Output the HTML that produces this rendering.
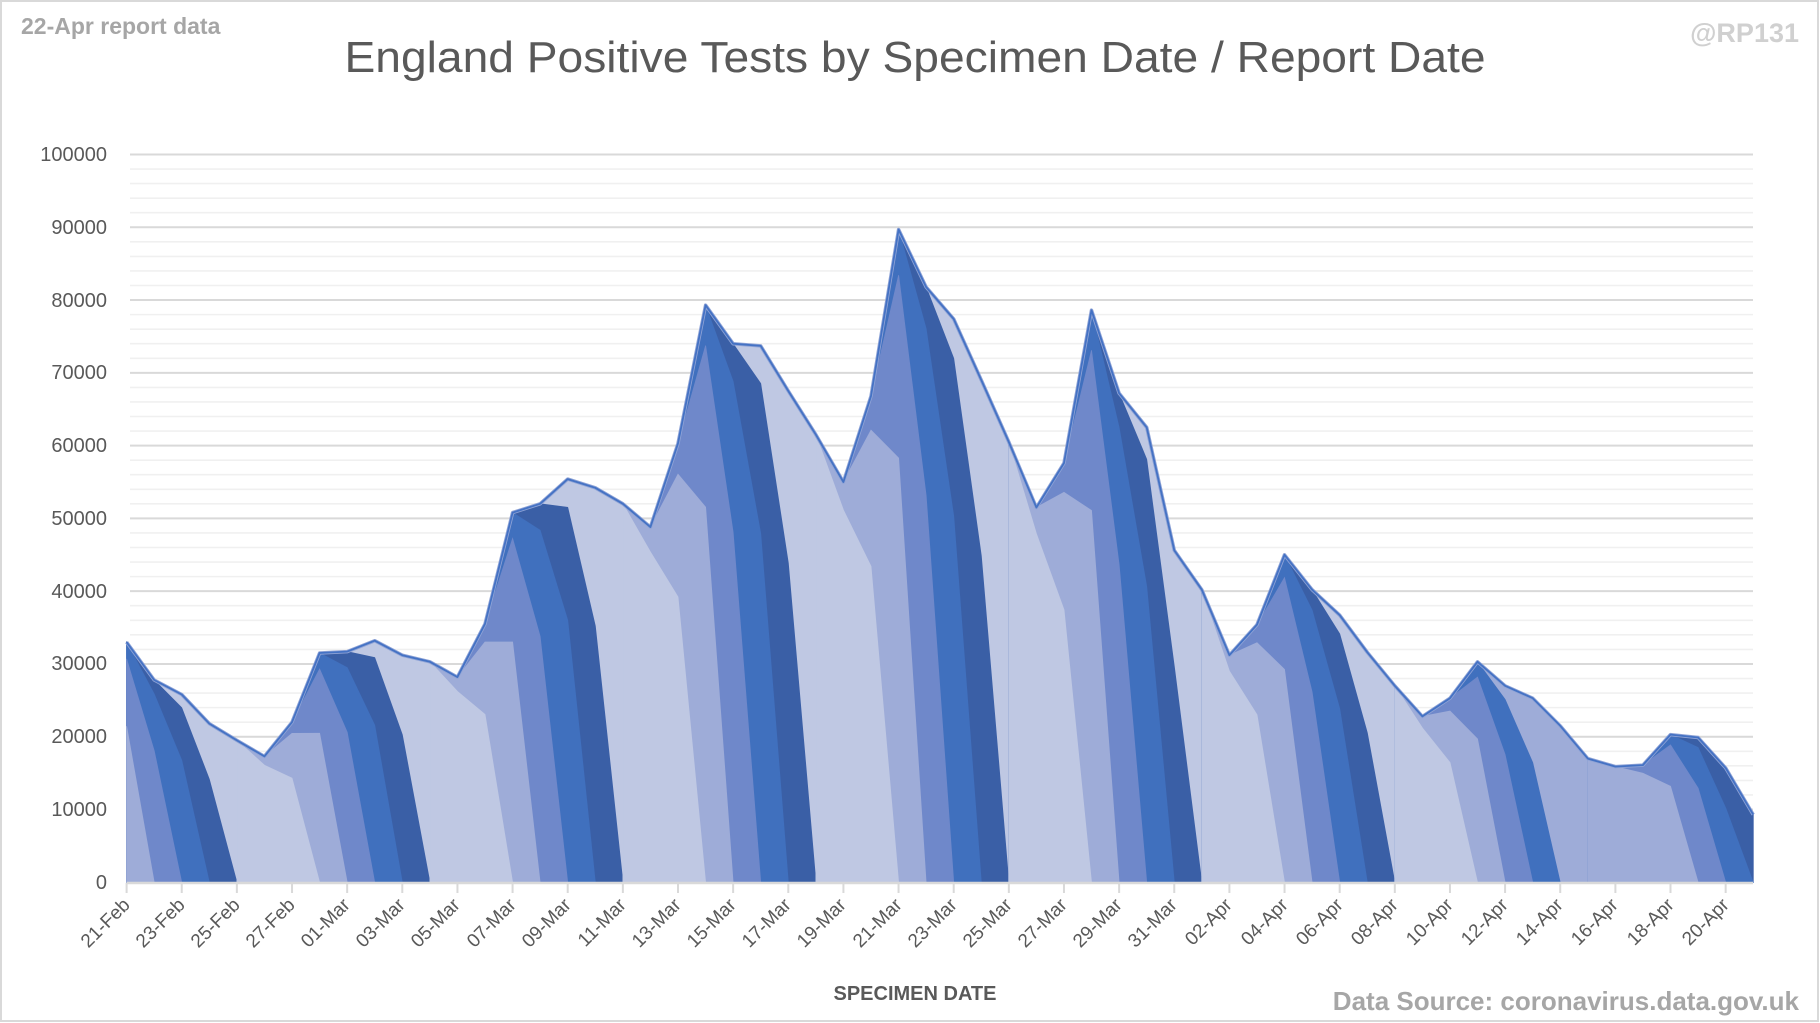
<!DOCTYPE html>
<html><head><meta charset="utf-8"><style>
html,body{margin:0;padding:0;background:#fff}
svg{display:block}
text{font-family:"Liberation Sans",sans-serif}
</style></head><body>
<svg id="s" width="1820" height="1023" viewBox="0 0 1820 1023" xmlns="http://www.w3.org/2000/svg">
<rect x="1" y="1" width="1817" height="1020" fill="#fff" stroke="#d9d9d9" stroke-width="2"/>
<g id="grid"></g>
<g id="areas"></g>
<g id="axis"></g>
<text x="21" y="34" font-size="23" font-weight="bold" fill="#a6a6a6">22-Apr report data</text>
<text x="915" y="72" font-size="44" fill="#595959" text-anchor="middle" textLength="1141" lengthAdjust="spacingAndGlyphs">England Positive Tests by Specimen Date / Report Date</text>
<text x="1799" y="42" font-size="27" font-weight="bold" fill="#d0d0d0" text-anchor="end">@RP131</text>
<text x="915" y="1000" font-size="20" font-weight="bold" fill="#595959" text-anchor="middle">SPECIMEN DATE</text>
<text x="1799" y="1010" font-size="26" font-weight="bold" fill="#a6a6a6" text-anchor="end">Data Source: coronavirus.data.gov.uk</text>
<g font-size="20" fill="#595959" text-anchor="end">
<text x="107" y="889">0</text>
<text x="107" y="816">10000</text>
<text x="107" y="743">20000</text>
<text x="107" y="670">30000</text>
<text x="107" y="598">40000</text>
<text x="107" y="525">50000</text>
<text x="107" y="452">60000</text>
<text x="107" y="379">70000</text>
<text x="107" y="307">80000</text>
<text x="107" y="234">90000</text>
<text x="107" y="161">100000</text>
</g>
<g font-size="19" fill="#595959" text-anchor="end">
<text transform="translate(131,906) rotate(-45)">21-Feb</text>
<text transform="translate(186,906) rotate(-45)">23-Feb</text>
<text transform="translate(241,906) rotate(-45)">25-Feb</text>
<text transform="translate(296,906) rotate(-45)">27-Feb</text>
<text transform="translate(351,906) rotate(-45)">01-Mar</text>
<text transform="translate(406,906) rotate(-45)">03-Mar</text>
<text transform="translate(461,906) rotate(-45)">05-Mar</text>
<text transform="translate(517,906) rotate(-45)">07-Mar</text>
<text transform="translate(572,906) rotate(-45)">09-Mar</text>
<text transform="translate(627,906) rotate(-45)">11-Mar</text>
<text transform="translate(682,906) rotate(-45)">13-Mar</text>
<text transform="translate(737,906) rotate(-45)">15-Mar</text>
<text transform="translate(792,906) rotate(-45)">17-Mar</text>
<text transform="translate(847,906) rotate(-45)">19-Mar</text>
<text transform="translate(903,906) rotate(-45)">21-Mar</text>
<text transform="translate(958,906) rotate(-45)">23-Mar</text>
<text transform="translate(1013,906) rotate(-45)">25-Mar</text>
<text transform="translate(1068,906) rotate(-45)">27-Mar</text>
<text transform="translate(1123,906) rotate(-45)">29-Mar</text>
<text transform="translate(1178,906) rotate(-45)">31-Mar</text>
<text transform="translate(1233,906) rotate(-45)">02-Apr</text>
<text transform="translate(1289,906) rotate(-45)">04-Apr</text>
<text transform="translate(1344,906) rotate(-45)">06-Apr</text>
<text transform="translate(1399,906) rotate(-45)">08-Apr</text>
<text transform="translate(1454,906) rotate(-45)">10-Apr</text>
<text transform="translate(1509,906) rotate(-45)">12-Apr</text>
<text transform="translate(1564,906) rotate(-45)">14-Apr</text>
<text transform="translate(1619,906) rotate(-45)">16-Apr</text>
<text transform="translate(1675,906) rotate(-45)">18-Apr</text>
<text transform="translate(1730,906) rotate(-45)">20-Apr</text>
</g>
</svg>
<script>
(function(){
var NS="http://www.w3.org/2000/svg";
var T=[33000,27800,25800,21800,19500,17300,22000,31500,31700,33200,31200,30300,28200,35500,50800,52000,55400,54200,52000,48800,60300,79300,74000,73700,67500,61500,55000,66800,89700,81800,77400,69000,60500,51500,57600,78600,67200,62500,45600,40200,31200,35400,45000,40200,36700,31600,27000,22800,25300,30300,27000,25300,21500,17000,15900,16100,20300,19900,15700,9300];
function X(d){return 126.6+27.57*d;}
function Y(v){return 882.3-v*0.007278;}
function el(tag,attrs,parent){var e=document.createElementNS(NS,tag);for(var k in attrs)e.setAttribute(k,attrs[k]);parent.appendChild(e);return e;}
var grid=document.getElementById('grid'),areas=document.getElementById('areas'),axis=document.getElementById('axis');
for(var v=2000;v<=100000;v+=2000){
  var major=(v%10000===0);
  el('line',{x1:130,x2:1753,y1:Y(v),y2:Y(v),stroke:major?'#d9d9d9':'#f0f0f0','stroke-width':major?2:1.6},grid);
}
function area(d0,d1,fn,fill){
  var p=[[X(d0),Y(0)]];
  for(var d=d0;d<=d1;d++)p.push([X(d),Y(fn(d))]);
  p.push([X(d1),Y(0)]);
  el('polygon',{points:p.map(function(q){return q[0].toFixed(1)+','+q[1].toFixed(1);}).join(' '),fill:fill,stroke:fill,'stroke-width':0.8,'stroke-linejoin':'miter'},areas);
}
var C=['#bfc8e3','#9eacd8','#6f88ca','#4070be','#3a5fa6'];
area(0,59,function(d){return T[d];},C[0]);
function frac(a,j,d){var k=a+j-d;if(k<=0)return 0;if(k==1)return 0.65;if(k==2)return 0.93;return 1;}
var weeks=[[0,4,0],[7,4,0],[14,4,0],[21,4,0],[28,4,0],[35,4,0],[42,4,0],[49,3,0],[56,3,1]];
weeks.forEach(function(w){
  var a=w[0],K=w[1],jmin=w[2];
  if(a==49)area(49,59,function(d){return T[d];},C[1]);
  if(a==56)area(56,59,function(d){return T[d];},C[4]);
  for(var j=K;j>=jmin;j--){
    var s=Math.max(0,a-3),e=Math.min(59,a+j);
    if(e<=s)continue;
    (function(j){area(s,e,function(d){return T[d]*frac(a,j,d);},C[j]);})(j);
  }
});
var pts=T.map(function(v,d){return X(d).toFixed(1)+','+Y(v).toFixed(1);}).join(' ');
el('polyline',{points:pts,fill:'none',stroke:'#8fa3d6','stroke-width':3.5,'stroke-linejoin':'round'},areas);
el('polyline',{points:pts,fill:'none',stroke:'#4472c4','stroke-width':1.8,'stroke-linejoin':'round'},areas);
el('line',{x1:126.6,x2:1753,y1:883,y2:883,stroke:'#d9d9d9','stroke-width':2.5},axis);
for(var d=0;d<=58;d+=2)el('line',{x1:X(d),x2:X(d),y1:883,y2:893,stroke:'#d9d9d9','stroke-width':2},axis);
})();
</script>
</body></html>
